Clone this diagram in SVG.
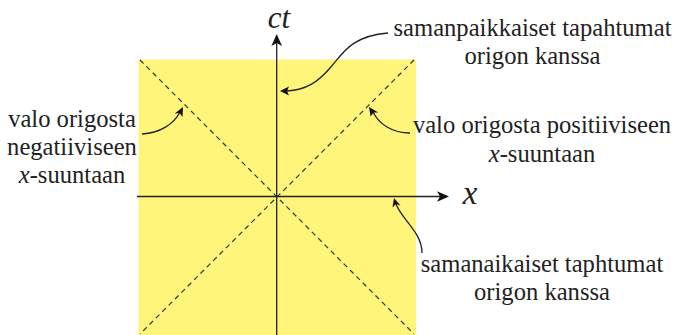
<svg xmlns="http://www.w3.org/2000/svg" width="674" height="335" viewBox="0 0 674 335">
<style>
text{font-family:'Liberation Serif','DejaVu Serif',serif;font-size:24.6px;fill:#222;}
.i{font-style:italic;}
.ax{stroke:#222;stroke-width:1.3;fill:none;}
.dash{stroke:#333;stroke-width:1.2;stroke-dasharray:5,4;fill:none;}
.cl{stroke:#222;stroke-width:1.3;fill:none;}
.ah{fill:#111;}
.big{font-size:33px;}
.ct{font-size:31px;}
</style>
<rect x="138.5" y="59.5" width="277.5" height="276" fill="#fff57a"/>
<g id="lightcones">
<line class="dash" x1="140" y1="60" x2="414" y2="334"/>
<line class="dash" x1="414" y1="60" x2="140" y2="334"/>
</g>
<g id="axes">
<line class="ax" x1="276.7" y1="335" x2="276.7" y2="42"/>
<path class="ah" d="M276.7,34 L282,46 L276.7,43 L271.4,46 Z"/>
<line class="ax" x1="137" y1="196.5" x2="441" y2="196.5"/>
<path class="ah" d="M449,196.5 L437,191.2 L440,196.5 L437,201.8 Z"/>
</g>
<g id="axis-labels">
<text class="i ct" x="279" y="28" text-anchor="middle">ct</text>
<text class="i big" x="470" y="204" text-anchor="middle">x</text>
</g>
<g id="connectors">
<path class="cl" d="M388,33 C350,36 342,55 330,68 C318,82 306,90 287,91"/>
<path class="ah" d="M280,91 L289,86.5 L287,91 L289,95.5 Z"/>
<path class="cl" d="M142,134 C160,133 174,124 180,112"/>
<path class="ah" d="M183,107 L182.5,117 L179.5,113 L174.7,113.5 Z"/>
<path class="cl" d="M410,133 C392,133 379,124 373,112"/>
<path class="ah" d="M369,107 L378.3,112.5 L373.5,112.5 L370.6,116.5 Z"/>
<path class="cl" d="M422,253 C422,232 402,220 396,204"/>
<path class="ah" d="M394,198 L400.5,205.5 L396,204 L392.5,207.5 Z"/>
</g>
<g id="label-top">
<text x="532.5" y="36" text-anchor="middle">samanpaikkaiset tapahtumat</text>
<text x="532.5" y="64" text-anchor="middle">origon kanssa</text>
</g>
<g id="label-left">
<text x="72" y="127" text-anchor="middle">valo origosta</text>
<text x="72" y="155" text-anchor="middle">negatiiviseen</text>
<text x="72" y="183" text-anchor="middle"><tspan class="i">x</tspan>-suuntaan</text>
</g>
<g id="label-right">
<text x="542" y="133" text-anchor="middle">valo origosta positiiviseen</text>
<text x="542" y="162" text-anchor="middle"><tspan class="i">x</tspan>-suuntaan</text>
</g>
<g id="label-bottom">
<text x="542" y="272" text-anchor="middle">samanaikaiset taphtumat</text>
<text x="542" y="300" text-anchor="middle">origon kanssa</text>
</g>
</svg>
